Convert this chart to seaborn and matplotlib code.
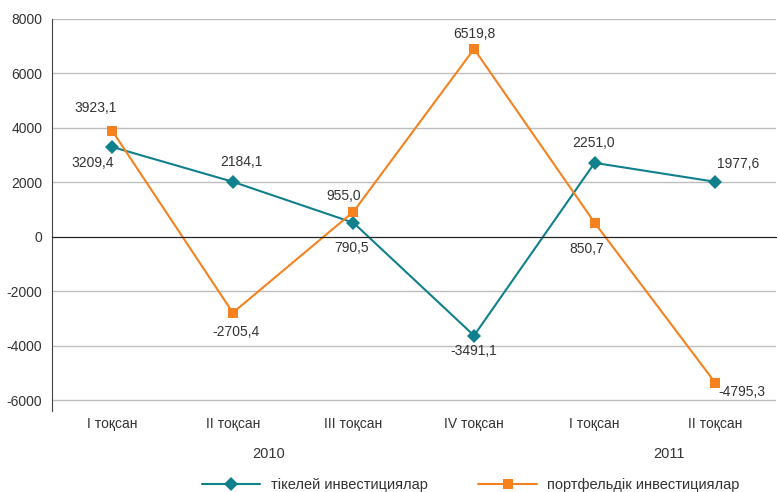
import pandas as pd
import seaborn as sns
import matplotlib.pyplot as plt
from matplotlib.ticker import FixedLocator

# ---- data ----
quarters = ["I тоқсан", "II тоқсан", "III тоқсан", "IV тоқсан", "I тоқсан", "II тоқсан"]
years = ["2010", "2011"]
series_names = ["тікелей инвестициялар", "портфельдік инвестициялар"]

# marker positions as drawn in the picture
direct_values = [3300, 2020, 515, -3630, 2715, 2020]
portfolio_values = [3890, -2790, 920, 6900, 515, -5360]

# data labels as printed
direct_labels = ["3209,4", "2184,1", "790,5", "-3491,1", "2251,0", "1977,6"]
portfolio_labels = ["3923,1", "-2705,4", "955,0", "6519,8", "850,7", "-4795,3"]

TEAL = "#0F808C"
ORANGE = "#F5821F"
TXT = "#333333"

df = pd.DataFrame({
    "pos": list(range(6)) * 2,
    "value": direct_values + portfolio_values,
    "series": [series_names[0]] * 6 + [series_names[1]] * 6,
})

sns.set_style("white")
plt.rcParams["font.family"] = ["Liberation Sans", "DejaVu Sans"]
plt.rcParams["font.size"] = 10
plt.rcParams["axes.unicode_minus"] = False

fig = plt.figure(figsize=(7.78, 4.92), dpi=100)
ax = fig.add_axes([0.0668, 0.1646, 0.930, 0.7968])

sns.lineplot(
    data=df, x="pos", y="value", hue="series", style="series",
    palette=[TEAL, ORANGE], markers=["D", "s"], dashes=False,
    markersize=7.5, linewidth=1.5, markeredgewidth=0, ax=ax,
)

# data labels (offsets in points)
direct_off = [(-14, -11.5), (6, 14), (-1, -18), (0, -11), (-1, 14), (16.5, 13)]
portfolio_off = [(-12, 16.5), (2, -14), (-7, 11.5), (0, 11), (-6, -19), (19.5, -7)]
for i in range(6):
    ax.annotate(direct_labels[i], (i, direct_values[i]), xytext=direct_off[i],
                textcoords="offset points", ha="center", va="center",
                fontsize=10, color=TXT)
    ax.annotate(portfolio_labels[i], (i, portfolio_values[i]), xytext=portfolio_off[i],
                textcoords="offset points", ha="center", va="center",
                fontsize=10, color=TXT)

ax.set_xlim(-0.5, 5.5)
ax.set_ylim(-6400, 8000)
ax.set_yticks(range(-6000, 8001, 2000))
ax.yaxis.grid(True, color="#BEBEBE", linewidth=1)
ax.set_axisbelow(True)
ax.tick_params(axis="y", colors=TXT, labelsize=10, direction="out", length=3, width=1, pad=4)

for s in ["top", "right"]:
    ax.spines[s].set_visible(False)
ax.spines["left"].set_color("#444444")
ax.spines["bottom"].set_position(("data", 0))
ax.spines["bottom"].set_color("#222222")

# category boundary ticks on the zero line, labels at the bottom
ax.xaxis.set_major_locator(FixedLocator([x - 0.5 for x in range(7)]))
ax.set_xticklabels([])
ax.tick_params(axis="x", direction="out", length=3, color="#222222")
ax.set_xlabel("")
ax.set_ylabel("")

sec = ax.secondary_xaxis("bottom")
sec.set_xticks(range(6))
sec.set_xticklabels(quarters)
sec.tick_params(length=0, pad=4, labelsize=10, colors=TXT)
sec.spines["bottom"].set_visible(False)

fig.text(269 / 778, 1 - 454 / 492, years[0], ha="center", va="center", fontsize=10.5, color=TXT)
fig.text(669 / 778, 1 - 454 / 492, years[1], ha="center", va="center", fontsize=10.5, color=TXT)

ax.legend_.remove()
handles, labels = ax.get_legend_handles_labels()
fig.legend(handles, labels, loc="center", bbox_to_anchor=(0.605, 1 - 485 / 492), ncol=2,
           frameon=False, fontsize=10.5, handlelength=4, columnspacing=3.5,
           handletextpad=0.7, labelcolor=TXT)

fig.savefig("out.png", dpi=100)
plt.close(fig)
